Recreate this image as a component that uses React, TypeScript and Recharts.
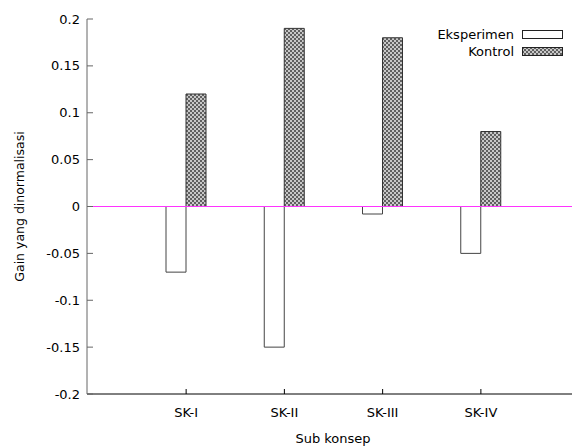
import { BarChart, Bar, XAxis, YAxis, ReferenceLine } from 'recharts'

const categories = ['SK-I', 'SK-II', 'SK-III', 'SK-IV']
const eksperimen = [-0.07, -0.15, -0.008, -0.05]
const kontrol = [0.12, 0.19, 0.18, 0.08]
const yTicks = [-0.2, -0.15, -0.1, -0.05, 0, 0.05, 0.1, 0.15, 0.2]
const legendItems = [
  { label: 'Eksperimen', fill: '#fff' },
  { label: 'Kontrol', fill: 'url(#checker)' }
]

const FONT = '"DejaVu Sans", sans-serif'

const data = categories.map((c, i) => ({
  name: c,
  Eksperimen: eksperimen[i],
  Kontrol: kontrol[i]
}))

export default function App() {
  return (
    <div style={{ position: 'absolute', left: 0, top: 0, width: 572, height: 446, overflow: 'hidden', background: '#fff' }}>
      <svg width={0} height={0} style={{ position: 'absolute' }}>
        <defs>
          <pattern id="checker" width={4} height={4} patternUnits="userSpaceOnUse">
            <rect width={4} height={4} fill="#c8c8c8" />
            <rect x={0} y={0} width={2} height={2} fill="#606060" />
            <rect x={2} y={2} width={2} height={2} fill="#606060" />
          </pattern>
        </defs>
      </svg>
      <BarChart
        width={600}
        height={446}
        data={data}
        margin={{ top: 19, right: 21, bottom: 0, left: 0 }}
        barGap={0}
        barCategoryGap={0}
      >
        <XAxis
          dataKey="name"
          padding={{ left: 50, right: 49 }}
          height={52}
          tickSize={-5}
          tickMargin={19}
          axisLine={{ stroke: '#000' }}
          tickLine={{ stroke: '#000' }}
          tick={{ fill: '#000', fontSize: 13, fontFamily: FONT }}
          label={{ value: 'Sub konsep', position: 'insideBottom', offset: 3, fill: '#000', fontSize: 13, fontFamily: FONT }}
        />
        <XAxis
          xAxisId="top"
          dataKey="name"
          orientation="top"
          padding={{ left: 50, right: 49 }}
          height={0}
          tickSize={-5}
          tick={false}
          axisLine={{ stroke: '#000' }}
          tickLine={{ stroke: '#000' }}
        />
        <YAxis
          type="number"
          domain={[-0.2, 0.2]}
          ticks={yTicks}
          width={87}
          tickSize={-6}
          tickMargin={13}
          interval={0}
          axisLine={{ stroke: '#666' }}
          tickLine={{ stroke: '#666' }}
          tick={{ fill: '#000', fontSize: 13, fontFamily: FONT }}
          label={{
            value: 'Gain yang dinormalisasi',
            angle: -90,
            position: 'insideLeft',
            offset: 20,
            style: { textAnchor: 'middle' },
            fill: '#000',
            fontSize: 12.5,
            fontFamily: FONT
          }}
        />
        <Bar dataKey="Eksperimen" barSize={20} fill="#fff" stroke="#444" isAnimationActive={false} />
        <Bar dataKey="Kontrol" barSize={20} fill="url(#checker)" stroke="#333" isAnimationActive={false} />
        <ReferenceLine y={0} stroke="#ff33ff" strokeWidth={1} />
      </BarChart>
      {/* gnuplot-style key: label left, sample box right */}
      <div style={{ position: 'absolute', top: 26, right: 8, fontFamily: FONT, fontSize: 13, color: '#000' }}>
        {legendItems.map(item => (
          <div key={item.label} style={{ display: 'flex', justifyContent: 'flex-end', alignItems: 'center', height: 17 }}>
            <span style={{ marginRight: 8 }}>{item.label}</span>
            <svg width={42} height={9} style={{ display: 'block' }}>
              <rect x={0.5} y={0.5} width={40} height={8} fill={item.fill} stroke="#222" />
            </svg>
          </div>
        ))}
      </div>
    </div>
  )
}
